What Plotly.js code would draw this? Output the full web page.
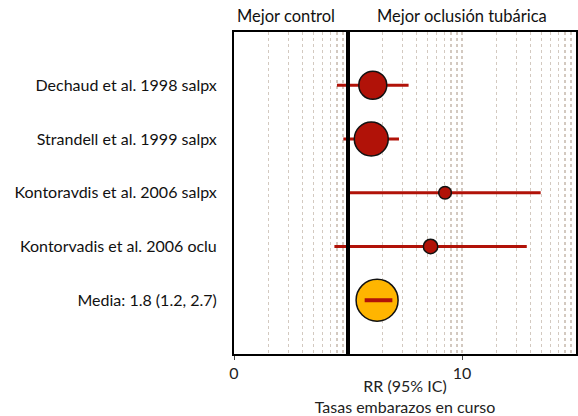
<!DOCTYPE html>
<html>
<head>
<meta charset="utf-8">
<script src="https://cdn.plot.ly/plotly-3.0.1.min.js"></script>
<style>html,body{margin:0;padding:0;background:#fff;}#chart{width:578px;height:416px;}</style>
</head>
<body>
<div id="chart"></div>
<script>
// ---- data ----
const studies = ["Dechaud et al. 1998 salpx", "Strandell et al. 1999 salpx", "Kontoravdis et al. 2006 salpx", "Kontorvadis et al. 2006 oclu"];
const rr = [1.65, 1.60, 7.1, 5.3];
const ciLow = [0.80, 0.91, 1.03, 0.76];
const ciHigh = [3.4, 2.8, 49, 37];
const weights = [34, 50, 7, 9];
const pooledLabel = "Media: 1.8 (1.2, 2.7)";
const pooledRR = 1.8;
const pooledLow = 1.4;
const pooledHigh = 2.45;
const nullEffect = 1;
const xTickVals = [0.1, 10];
const xTickText = ["0", "10"];
const leftHeader = "Mejor control";
const rightHeader = "Mejor oclusión tubárica";
const xTitle = "RR (95% IC)<br>Tasas embarazos en curso";

// ---- styles ----
const RED = "#b11208";
const GOLD = "#ffb500";
const FONT = "Lato, 'Open Sans', sans-serif";
const allLabels = studies.concat([pooledLabel]);

// log-scale grid values (decoration)
const gridVals = [];
for (let d = -1; d <= 1; d++) {
  for (let k = 1; k <= 9; k++) {
    const v = k * Math.pow(10, d);
    if (v > 0.1 && v !== nullEffect) gridVals.push(v);
  }
}

const traces = [];
studies.forEach((s, i) => {
  traces.push({
    type: "scatter", mode: "lines", x: [ciLow[i], ciHigh[i]], y: [s, s],
    line: {color: RED, width: 3}, hoverinfo: "skip", showlegend: false
  });
});
traces.push({
  type: "scatter", mode: "markers",
  x: rr.concat([pooledRR]), y: allLabels,
  marker: {
    size: weights.map(w => 4.8 * Math.sqrt(w)).concat([42]),
    color: rr.map(() => RED).concat([GOLD]),
    line: {color: "#111", width: 1.5}, opacity: 1
  },
  showlegend: false
});
traces.push({
  type: "scatter", mode: "lines", x: [pooledLow, pooledHigh], y: [pooledLabel, pooledLabel],
  line: {color: RED, width: 4}, showlegend: false
});

const layout = {
  width: 578, height: 416,
  margin: {l: 234, r: 2, t: 32, b: 62},
  paper_bgcolor: "#fff", plot_bgcolor: "#fff",
  font: {family: FONT, size: 16, color: "#111"},
  showlegend: false,
  xaxis: {
    type: "log", range: [-1, 2],
    tickvals: xTickVals, ticktext: xTickText,
    ticks: "outside", ticklen: 4, tickwidth: 1, tickcolor: "#444",
    showgrid: false, zeroline: false,
    showline: true, mirror: true, linecolor: "#000", linewidth: 2,
    tickfont: {family: FONT, size: 16, color: "#222"},
    minor: {tickvals: gridVals, showgrid: true, gridcolor: "#d3c9c0", griddash: "3px,3px", gridwidth: 1.5, ticklen: 0},
    title: {text: xTitle, font: {family: FONT, size: 16, color: "#222"}, standoff: 6}
  },
  yaxis: {
    type: "category", categoryorder: "array", categoryarray: allLabels,
    range: [5.0, -0.99],
    showgrid: false, zeroline: false,
    showline: true, mirror: true, linecolor: "#000", linewidth: 2,
    ticks: "", ticklabelstandoff: 12,
    tickfont: {family: FONT, size: 16, color: "#111"}
  },
  shapes: [{
    type: "line", xref: "x", yref: "paper", x0: nullEffect, x1: nullEffect, y0: 0, y1: 1,
    line: {color: "#000", width: 4}, layer: "above"
  }],
  annotations: [
    {text: leftHeader, xref: "x", yref: "paper", x: Math.log10(0.285), y: 1, yshift: 16, showarrow: false,
     font: {family: FONT, size: 16.5, color: "#111"}, xanchor: "center", yanchor: "middle"},
    {text: rightHeader, xref: "x", yref: "paper", x: Math.log10(9.9), y: 1, yshift: 16, showarrow: false,
     font: {family: FONT, size: 16.5, color: "#111"}, xanchor: "center", yanchor: "middle"}
  ]
};

Plotly.newPlot("chart", traces, layout, {displayModeBar: false, staticPlot: true});
</script>
</body>
</html>
